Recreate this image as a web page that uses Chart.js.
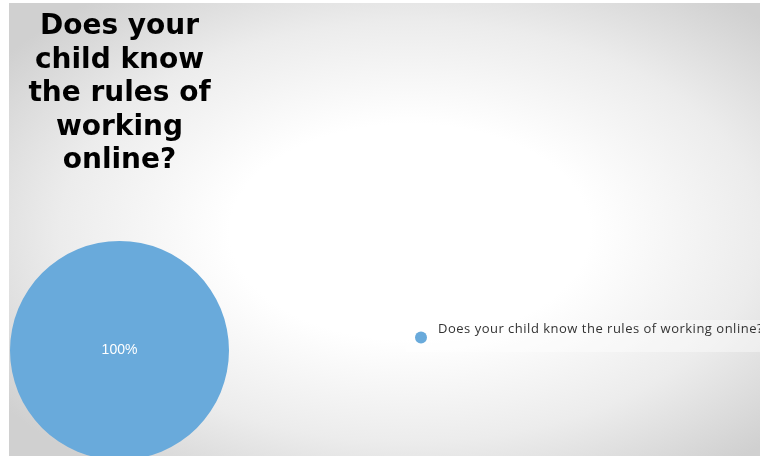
<!DOCTYPE html>
<html>
<head>
<meta charset="utf-8">
<script src="https://cdn.jsdelivr.net/npm/chart.js@4/dist/chart.umd.min.js"></script>
<style>
  html, body { margin: 0; padding: 0; background: #fff; overflow: hidden; height: 456px; }
  #wrap { width: 760px; height: 470px; }
</style>
</head>
<body>
<div id="wrap"><canvas id="chart_regras"></canvas></div>
<script>
const perguntas = ["Does your child know the rules of working online?"];
const respostas = [100];
const tituloLinhas = ["Does your", "child know", "the rules of", "working", "online?"];

const regras = document.getElementById("chart_regras");
const azul = "#69aadb";

// fundo cinza com centro claro
const fundo = {
  id: "fundo",
  beforeDraw(chart) {
    const ctx = chart.ctx;
    const sy = 0.6;
    ctx.save();
    ctx.fillStyle = "#ffffff";
    ctx.fillRect(0, 0, chart.width, chart.height);
    ctx.translate(410, 232);
    ctx.scale(1, sy);
    const g = ctx.createRadialGradient(0, 0, 0, 0, 0, 500);
    g.addColorStop(0, "#ffffff");
    g.addColorStop(0.36, "#ffffff");
    g.addColorStop(0.7, "#ececec");
    g.addColorStop(1, "#d0d0d0");
    ctx.fillStyle = g;
    ctx.fillRect(9 - 410, (3 - 232) / sy, chart.width, chart.height / sy);
    ctx.restore();
  },
};

// porcentagem no meio de cada fatia
const rotulos = {
  id: "rotulos",
  afterDatasetsDraw(chart) {
    const ctx = chart.ctx;
    const valores = chart.data.datasets[0].data;
    const total = valores.reduce((a, b) => a + b, 0);
    const arcos = chart.getDatasetMeta(0).data;
    ctx.save();
    ctx.fillStyle = "#ffffff";
    ctx.font = "14px 'Liberation Sans', Arial, sans-serif";
    ctx.textAlign = "center";
    ctx.textBaseline = "middle";
    arcos.forEach((arco, i) => {
      const pct = Math.round((valores[i] / total) * 100) + "%";
      const full = arco.endAngle - arco.startAngle >= Math.PI * 2 - 1e-6;
      const pos = full ? { x: arco.x, y: arco.y } : arco.tooltipPosition();
      ctx.fillText(pct, pos.x, pos.y);
    });
    ctx.restore();
  },
};

// legenda à direita
const legenda = {
  id: "legenda",
  afterDraw(chart) {
    const ctx = chart.ctx;
    const cores = chart.data.datasets[0].backgroundColor;
    ctx.save();
    ctx.fillStyle = "rgba(255,255,255,0.4)";
    ctx.fillRect(406, 320, chart.width - 406, 32);
    chart.data.labels.forEach((texto, i) => {
      const y = 329 + i * 24;
      ctx.fillStyle = cores[i];
      ctx.beginPath();
      ctx.arc(421, y + 8.5, 6, 0, Math.PI * 2);
      ctx.fill();
      ctx.fillStyle = "#333333";
      ctx.font = "13px 'Open Sans', sans-serif";
      ctx.letterSpacing = "0.5px";
      ctx.textBaseline = "middle";
      ctx.fillText(texto, 438, y);
    });
    ctx.restore();
  },
};

new Chart(regras, {
  type: "pie",
  data: {
    labels: perguntas,
    datasets: [
      {
        data: respostas,
        backgroundColor: [azul],
        borderWidth: 0,
      },
    ],
  },
  options: {
    responsive: true,
    maintainAspectRatio: false,
    animation: false,
    layout: {
      padding: { left: 10, right: 531, top: 3, bottom: 0 },
    },
    plugins: {
      legend: { display: false },
      tooltip: { enabled: false },
      title: {
        display: true,
        fullSize: false,
        text: tituloLinhas,
        color: "#000000",
        font: { family: "'DejaVu Sans', Verdana, sans-serif", size: 28, weight: "bold", lineHeight: 33.5 / 28 },
        padding: { top: 7, bottom: 53.5 },
      },
    },
  },
  plugins: [fundo, rotulos, legenda],
});
</script>
</body>
</html>
